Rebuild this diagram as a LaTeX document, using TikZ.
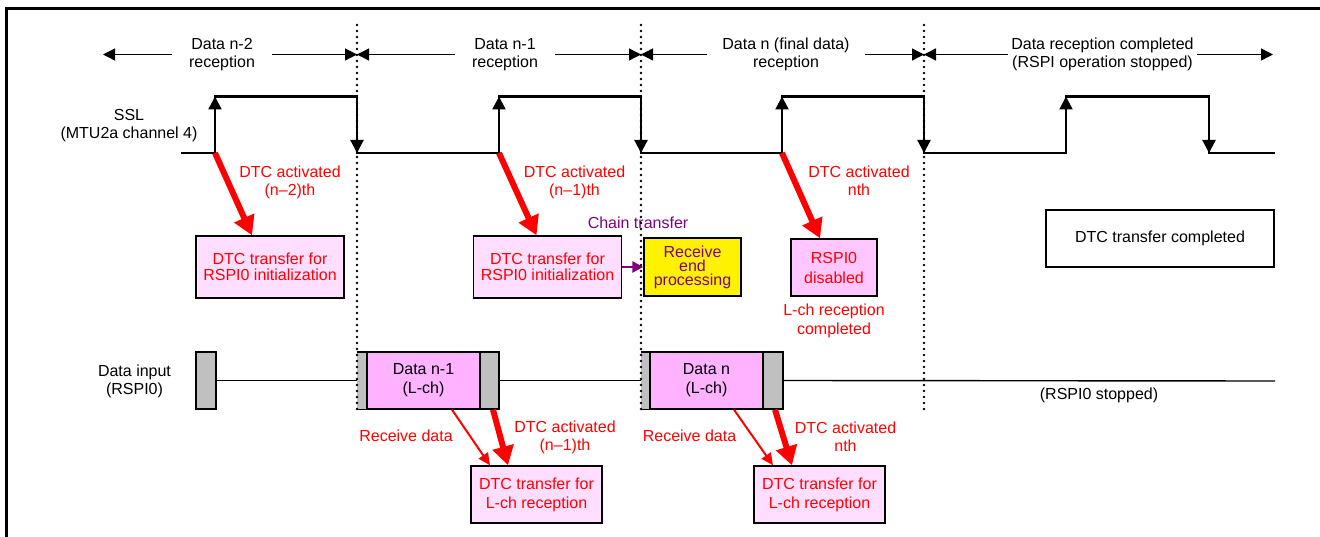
\documentclass[tikz,border=0pt]{standalone}
\usepackage{fontspec}
\setmainfont{Liberation Sans}
\usetikzlibrary{arrows.meta}
\definecolor{pinkA}{RGB}{255,222,255}
\definecolor{pinkB}{RGB}{255,198,255}
\definecolor{pinkC}{RGB}{255,178,255}
\definecolor{grayD}{RGB}{192,192,192}
\definecolor{purp}{RGB}{128,0,128}
\tikzset{
 lbl/.style={font=\fontsize{16}{18}\selectfont, align=center, inner sep=0pt},
 rlbl/.style={lbl, text=red},
 boxA/.style={draw, line width=1.4pt, align=center, inner sep=0pt, font=\fontsize{16}{16}\selectfont},
 waveline/.style={line width=2.2pt},
 wtip/.style={line width=2.2pt, -{Triangle[length=13pt,width=13pt]}},
 spanarr/.style={line width=1.4pt, -{Triangle[length=12pt,width=12pt]}},
 bigred/.style={red, line width=6pt, -{Triangle[length=19pt,width=21pt]}},
 thinred/.style={red, line width=2pt, -{Triangle[length=12pt,width=11pt]}},
 dotline/.style={line width=2.6pt, line cap=round, dash pattern=on 0pt off 6pt},
 datab/.style={draw, line width=1.4pt, inner sep=0pt, minimum height=57pt},
}
\begin{document}
\begin{tikzpicture}[x=1pt,y=-1pt]
\useasboundingbox (0,0) rectangle (1320,537);
% frame
\draw[line width=3pt] (6.2,537) -- (6.2,8.3) -- (1320,8.3);

% ---- top span labels and arrows
\coordinate (a0) at (103,54.5);
\coordinate (v1a) at (357,54.5);
\coordinate (v2a) at (641,54.5);
\coordinate (v3a) at (924,54.5);
\coordinate (a5) at (1273,54.5);
\node[lbl, inner xsep=17pt] (t1) at (222,54.5) {Data n-2\\reception};
\node[lbl, inner xsep=17pt] (t2) at (505,54.5) {Data n-1\\reception};
\node[lbl, inner xsep=15.4pt] (t3) at (786,54.5) {Data n (final data)\\reception};
\node[lbl, inner xsep=3.3pt] (t4) at (1102.5,54.5) {Data reception completed\\(RSPI operation stopped)};
\draw[spanarr] (t1.west) -- (a0);
\draw[spanarr] (t1.east) -- (v1a);
\draw[spanarr] (t2.west) -- (v1a);
\draw[spanarr] (t2.east) -- (v2a);
\draw[spanarr] (t3.west) -- (v2a);
\draw[spanarr] (t3.east) -- (v3a);
\draw[spanarr] (t4.west) -- (v3a);
\draw[spanarr] (t4.east) -- (a5);

% ---- SSL waveform
\node[lbl] (ssl) at (129,126) {SSL\\(MTU2a channel 4)};
\coordinate (s1) at (215,153);
\coordinate (s2) at (499,153);
\coordinate (s3) at (782,153);
\draw[waveline] (181,153) -- (215,153) -- (215,96.5) -- (357,96.5) -- (357,153) -- (499,153) -- (499,96.5) -- (641,96.5) -- (641,153) -- (782,153) -- (782,96.5) -- (924,96.5) -- (924,153) -- (1066,153) -- (1066,96.5) -- (1209,96.5) -- (1209,153) -- (1275,153);
\foreach \x in {215,499,782,1066} {\draw[wtip] (\x,130) -- (\x,96.5);}
\foreach \x in {357,641,924,1209} {\draw[wtip] (\x,120) -- (\x,153);}

% ---- DTC boxes (upper)
\node[boxA, fill=pinkA, text=red, minimum width=148pt, minimum height=62pt] (b1) at (270,267) {DTC transfer for\\RSPI0 initialization};
\node[boxA, fill=pinkA, text=red, minimum width=148pt, minimum height=62pt] (b2) at (547.5,267) {DTC transfer for\\RSPI0 initialization};
\node[boxA, fill=yellow, text=purp, minimum width=97pt, minimum height=58pt, font=\fontsize{16}{14}\selectfont] (b3) at (692.5,267) {Receive\\end\\processing};
\node[boxA, fill=pinkB, text=red, minimum width=86pt, minimum height=57pt, font=\fontsize{16}{20}\selectfont] (b4) at (834,267.5) {RSPI0\\disabled};
\node[boxA, minimum width=228pt, minimum height=57pt] (b5) at (1160,238.5) {DTC transfer completed};

\draw[bigred] (s1) -- ([xshift=-18pt]b1.north);
\draw[bigred] (s2) -- ([xshift=-11pt]b2.north);
\draw[bigred] (s3) -- ([xshift=-14pt]b4.north);

\node[rlbl] (l1) at (290,182) {DTC activated\\(n\textendash2)th};
\node[rlbl] (l2) at (574.5,182) {DTC activated\\(n\textendash1)th};
\node[rlbl] (l3) at (859,181) {DTC activated\\nth};
\node[lbl, text=purp] (ct) at (638,223) {Chain transfer};
\draw[purp, line width=2.5pt, -{Triangle[length=11pt,width=11pt]}] (b2.east) -- (b3.west);
\node[rlbl, font=\fontsize{16}{18.5}\selectfont] (lc) at (834,321) {L-ch reception\\completed};

% ---- data input row
\node[lbl] (di) at (134.5,381) {Data input\\(RSPI0)};
\node[datab, fill=grayD, minimum width=20pt] (g0) at (206,380.5) {};
\node[inner sep=0pt, fill=grayD, minimum width=10pt, minimum height=57pt] (g1) at (362,380.5) {};
\draw[line width=1.4pt] (g1.north west) -- (g1.north east) (g1.south west) -- (g1.south east);
\node[datab, fill=pinkC, minimum width=113pt, align=center, font=\fontsize{16}{19}\selectfont] (d1) at (423.5,380.5) {Data n-1\\(L-ch)};
\node[datab, fill=grayD, minimum width=19pt] (g2) at (489.5,380.5) {};
\node[inner sep=0pt, fill=grayD, minimum width=9pt, minimum height=57pt] (g3) at (645.5,380.5) {};
\draw[line width=1.4pt] (g3.north west) -- (g3.north east) (g3.south west) -- (g3.south east);
\node[datab, fill=pinkC, minimum width=113pt, align=center, font=\fontsize{16}{19}\selectfont] (d2) at (706.5,380.5) {Data n\\(L-ch)};
\node[datab, fill=grayD, minimum width=20pt] (g4) at (773,380.5) {};
\coordinate (dend) at (1275,381);
\draw[line width=1.4pt] (g0.east) -- (g1.west);
\draw[line width=1.4pt] (g2.east) -- (g3.west);
\draw[line width=1.4pt] (g4.east) -- (dend);
\node[lbl] (stp) at (1099,395) {(RSPI0 stopped)};

% ---- dotted separators
\draw[dotline] (357,25) -- (357,409);
\draw[dotline] (641,25) -- (641,409);
\draw[dotline] (924,25) -- (924,409);

% ---- lower DTC boxes
\node[boxA, fill=pinkA, text=red, minimum width=131pt, minimum height=57pt, font=\fontsize{16}{19}\selectfont] (b6) at (536.5,494.5) {DTC transfer for\\L-ch reception};
\node[boxA, fill=pinkA, text=red, minimum width=131pt, minimum height=57pt, font=\fontsize{16}{19}\selectfont] (b7) at (819.5,494.5) {DTC transfer for\\L-ch reception};
\draw[thinred] ([xshift=28.5pt]d1.south) -- ([xshift=-46.5pt]b6.north);
\draw[bigred] ([xshift=3.5pt]g2.south) -- ([xshift=-28.5pt]b6.north);
\draw[thinred] ([xshift=27.5pt]d2.south) -- ([xshift=-46.5pt]b7.north);
\draw[bigred] ([xshift=2pt]g4.south) -- ([xshift=-27.5pt]b7.north);
\node[rlbl] (rd1) at (406,436) {Receive data};
\node[rlbl] (rd2) at (689.5,436) {Receive data};
\node[rlbl] (l4) at (565,437.5) {DTC activated\\(n\textendash1)th};
\node[rlbl] (l5) at (845.5,436.5) {DTC activated\\nth};
\end{tikzpicture}
\end{document}
